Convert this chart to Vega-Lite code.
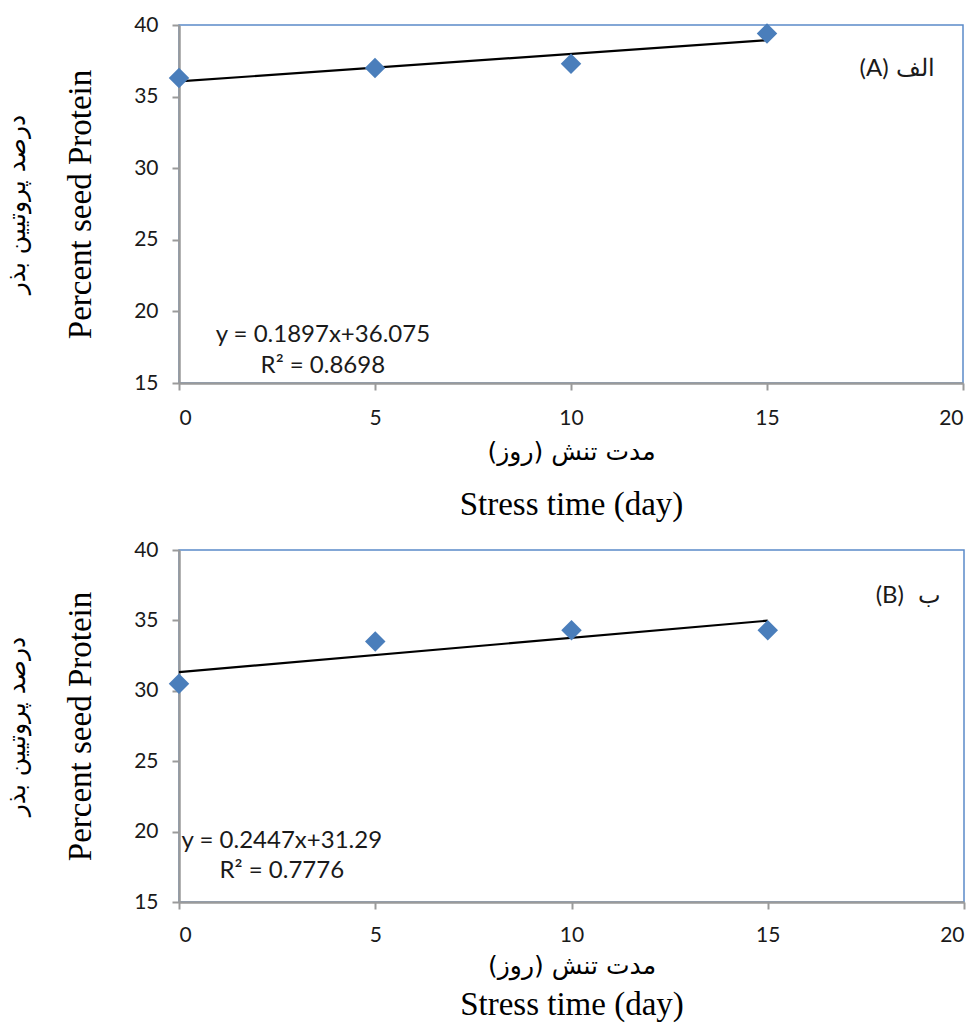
{
  "$schema": "https://vega.github.io/schema/vega-lite/v6.json",
  "background": "white",
  "padding": {"left": 3, "top": 13, "right": 10, "bottom": 5},
  "config": {
    "view": {"stroke": "#5B8BC9", "strokeWidth": 1.5},
    "axis": {
      "grid": false,
      "domainColor": "#9A9A9A",
      "domainWidth": 2.5,
      "tickColor": "#9A9A9A",
      "tickWidth": 2,
      "tickSize": 7,
      "labelFont": "Lato",
      "labelFontSize": 21,
      "labelColor": "#1a1a1a",
      "titleFont": "Liberation Serif",
      "titleFontWeight": "normal",
      "titleColor": "#000000"
    }
  },
  "vconcat": [
    {
      "width": 784,
      "height": 358,
      "data": {"values": [
        {"day": 0, "protein": 36.3},
        {"day": 5, "protein": 37.0},
        {"day": 10, "protein": 37.3},
        {"day": 15, "protein": 39.4}
      ]},
      "layer": [
        {
          "transform": [{"regression": "protein", "on": "day", "extent": [0, 15]}],
          "mark": {"type": "line", "color": "#000000", "strokeWidth": 2.2},
          "encoding": {
            "x": {"field": "day", "type": "quantitative", "scale": {"domain": [0, 20], "nice": false},
                  "axis": {"orient": "bottom", "labels": false, "ticks": false, "domain": false, "title": "\u200fمدت تنش (روز)\u200f", "titleFont": "DejaVu Sans", "titleFontSize": 25, "titlePadding": 56}},
            "y": {"field": "protein", "type": "quantitative", "scale": {"domain": [15, 40], "nice": false, "zero": false},
                  "axis": {"orient": "left", "labels": false, "ticks": false, "domain": false, "title": "درصد پروتیین بذر", "titleFont": "DejaVu Sans", "titleFontSize": 25, "titlePadding": 150}}
          }
        },
        {
          "mark": {"type": "point", "shape": "diamond", "filled": true, "size": 420, "color": "#4A7EBB", "opacity": 1},
          "encoding": {
            "x": {"field": "day", "type": "quantitative", "scale": {"domain": [0, 20], "nice": false},
                  "axis": {"orient": "bottom", "values": [0, 5, 10, 15, 20], "labelPadding": 17, "title": "Stress time (day)", "titleFontSize": 33, "titlePadding": 60}},
            "y": {"field": "protein", "type": "quantitative", "scale": {"domain": [15, 40], "nice": false, "zero": false},
                  "axis": {"orient": "left", "values": [15, 20, 25, 30, 35, 40], "labelPadding": 14, "title": "Percent seed Protein", "titleFontSize": 33, "titlePadding": 36}}
          }
        },
        {
          "data": {"values": [
            {"tx": 3.67, "ty": 18.35, "label": "y = 0.1897x+36.075"},
            {"tx": 3.67, "ty": 16.2, "label": "R² = 0.8698"},
            {"tx": 17.73, "ty": 36.9, "label": "(A)"},
            {"tx": 18.8, "ty": 36.9, "label": "الف"}
          ]},
          "mark": {"type": "text", "font": "Lato", "fontSize": 24, "color": "#1a1a1a", "baseline": "middle", "align": "center"},
          "encoding": {
            "x": {"field": "tx", "type": "quantitative", "axis": null},
            "y": {"field": "ty", "type": "quantitative", "axis": null},
            "text": {"field": "label"}
          }
        }
      ],
      "resolve": {"axis": {"x": "independent", "y": "independent"}}
    },
    {
      "width": 785,
      "height": 352,
      "data": {"values": [
        {"day": 0, "protein": 30.5},
        {"day": 5, "protein": 33.5},
        {"day": 10, "protein": 34.3},
        {"day": 15, "protein": 34.3}
      ]},
      "layer": [
        {
          "transform": [{"regression": "protein", "on": "day", "extent": [0, 15]}],
          "mark": {"type": "line", "color": "#000000", "strokeWidth": 2.2},
          "encoding": {
            "x": {"field": "day", "type": "quantitative", "scale": {"domain": [0, 20], "nice": false},
                  "axis": {"orient": "bottom", "labels": false, "ticks": false, "domain": false, "title": "\u200fمدت تنش (روز)\u200f", "titleFont": "DejaVu Sans", "titleFontSize": 25, "titlePadding": 51}},
            "y": {"field": "protein", "type": "quantitative", "scale": {"domain": [15, 40], "nice": false, "zero": false},
                  "axis": {"orient": "left", "labels": false, "ticks": false, "domain": false, "title": "درصد پروتیین بذر", "titleFont": "DejaVu Sans", "titleFontSize": 25, "titlePadding": 150}}
          }
        },
        {
          "mark": {"type": "point", "shape": "diamond", "filled": true, "size": 420, "color": "#4A7EBB", "opacity": 1},
          "encoding": {
            "x": {"field": "day", "type": "quantitative", "scale": {"domain": [0, 20], "nice": false},
                  "axis": {"orient": "bottom", "values": [0, 5, 10, 15, 20], "labelPadding": 15, "title": "Stress time (day)", "titleFontSize": 33, "titlePadding": 43}},
            "y": {"field": "protein", "type": "quantitative", "scale": {"domain": [15, 40], "nice": false, "zero": false},
                  "axis": {"orient": "left", "values": [15, 20, 25, 30, 35, 40], "labelPadding": 14, "title": "Percent seed Protein", "titleFontSize": 33, "titlePadding": 36}}
          }
        },
        {
          "data": {"values": [
            {"tx": 2.62, "ty": 19.33, "label": "y = 0.2447x+31.29"},
            {"tx": 2.62, "ty": 17.2, "label": "R² = 0.7776"},
            {"tx": 18.11, "ty": 36.7, "label": "(B)"},
            {"tx": 19.13, "ty": 36.7, "label": "ب"}
          ]},
          "mark": {"type": "text", "font": "Lato", "fontSize": 24, "color": "#1a1a1a", "baseline": "middle", "align": "center"},
          "encoding": {
            "x": {"field": "tx", "type": "quantitative", "axis": null},
            "y": {"field": "ty", "type": "quantitative", "axis": null},
            "text": {"field": "label"}
          }
        }
      ],
      "resolve": {"axis": {"x": "independent", "y": "independent"}}
    }
  ],
  "spacing": 16
}
